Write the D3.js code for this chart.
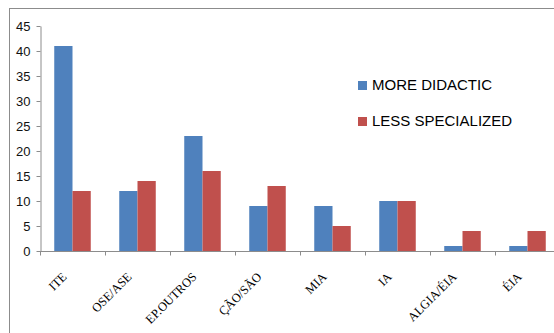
<!DOCTYPE html>
<html>
<head>
<meta charset="utf-8">
<script src="https://cdn.jsdelivr.net/npm/d3@7"></script>
<style>
  html, body { margin: 0; background: #fff; overflow: hidden; }
  svg { display: block; }
</style>
</head>
<body>
<svg id="chart" width="554" height="333"></svg>
<script>
// Categories along the x axis
const categories = ['ITE', 'OSE/ASE', 'EP.OUTROS', 'ÇÃO/SÃO', 'MIA', 'IA', 'ALGIA/ÉIA', 'ÉIA'];

// Series values
const seriesNames = ['MORE DIDACTIC', 'LESS SPECIALIZED'];
const moreDidactic = [41, 12, 23, 9, 9, 10, 1, 1];
const lessSpecialized = [12, 14, 16, 13, 5, 10, 4, 4];

// Y tick labels
const yTicks = [0, 5, 10, 15, 20, 25, 30, 35, 40, 45];

const colors = ['#4F81BD', '#C0504D'];

const svg = d3.select('#chart');

// outer frame (runs off the right and bottom of the picture)
svg.append('rect')
    .attr('x', 9.5).attr('y', 8.5)
    .attr('width', 600).attr('height', 360)
    .attr('fill', 'none')
    .attr('stroke', '#8c8c8c')
    .attr('stroke-width', 1);

const rows = categories.map((c, i) => ({ cat: c, values: [moreDidactic[i], lessSpecialized[i]] }));

const x0 = d3.scaleBand().domain(categories).range([40, 560]).padding(0);
const x1 = d3.scaleBand().domain(seriesNames).range([0, x0.bandwidth()]).paddingInner(0).paddingOuter(0.78);
const y = d3.scaleLinear().domain([0, 45]).range([251, 26]);

// y axis
const yAxis = svg.append('g')
    .attr('transform', 'translate(40.5,0)')
    .call(d3.axisLeft(y).tickValues(yTicks).tickSize(4).tickSizeOuter(0).tickPadding(6));
yAxis.select('.domain').attr('stroke', '#8c8c8c');
yAxis.selectAll('.tick line').attr('stroke', '#8c8c8c');
yAxis.selectAll('.tick text')
    .attr('font-family', 'Liberation Sans, Arial, sans-serif')
    .attr('font-size', 13)
    .attr('fill', '#111');

// bars
const groups = svg.append('g').selectAll('g')
    .data(rows)
    .join('g')
    .attr('transform', d => `translate(${x0(d.cat)},0)`);

groups.selectAll('rect')
    .data(d => d.values.map((v, k) => ({ key: seriesNames[k], value: v, k })))
    .join('rect')
    .attr('x', d => x1(d.key))
    .attr('y', d => y(d.value))
    .attr('width', x1.bandwidth())
    .attr('height', d => y(0) - y(d.value))
    .attr('fill', d => colors[d.k]);

// x axis line and category tick marks
const xAxis = svg.append('g').attr('transform', `translate(0,${y(0) + 0.5})`);
xAxis.append('line')
    .attr('x1', 40).attr('x2', 560)
    .attr('stroke', '#8c8c8c');
const boundaries = categories.map(c => x0(c)).concat([x0.range()[1]]);
xAxis.selectAll('line.tick')
    .data(boundaries)
    .join('line')
    .attr('class', 'tick')
    .attr('x1', d => d + 0.5).attr('x2', d => d + 0.5)
    .attr('y1', 0).attr('y2', 4)
    .attr('stroke', '#8c8c8c');

// rotated category labels
xAxis.selectAll('text')
    .data(categories)
    .join('text')
    .attr('transform', d => `translate(${x0(d) + x0.bandwidth() / 2 - 5},${26}) rotate(-45)`)
    .attr('text-anchor', 'end')
    .attr('font-family', 'Liberation Serif, Times New Roman, serif')
    .attr('font-size', 12.5)
    .attr('fill', '#000')
    .text(d => d);

// legend
const legend = svg.append('g').selectAll('g')
    .data(seriesNames)
    .join('g')
    .attr('transform', (d, i) => `translate(358,${90 + i * 36})`);
legend.append('rect')
    .attr('x', 0).attr('y', -9)
    .attr('width', 9).attr('height', 9)
    .attr('fill', (d, i) => colors[i]);
legend.append('text')
    .attr('x', 14).attr('y', 0)
    .attr('font-family', 'Liberation Sans, Arial, sans-serif')
    .attr('font-size', 15)
    .attr('fill', '#000')
    .text(d => d);
</script>
</body>
</html>
